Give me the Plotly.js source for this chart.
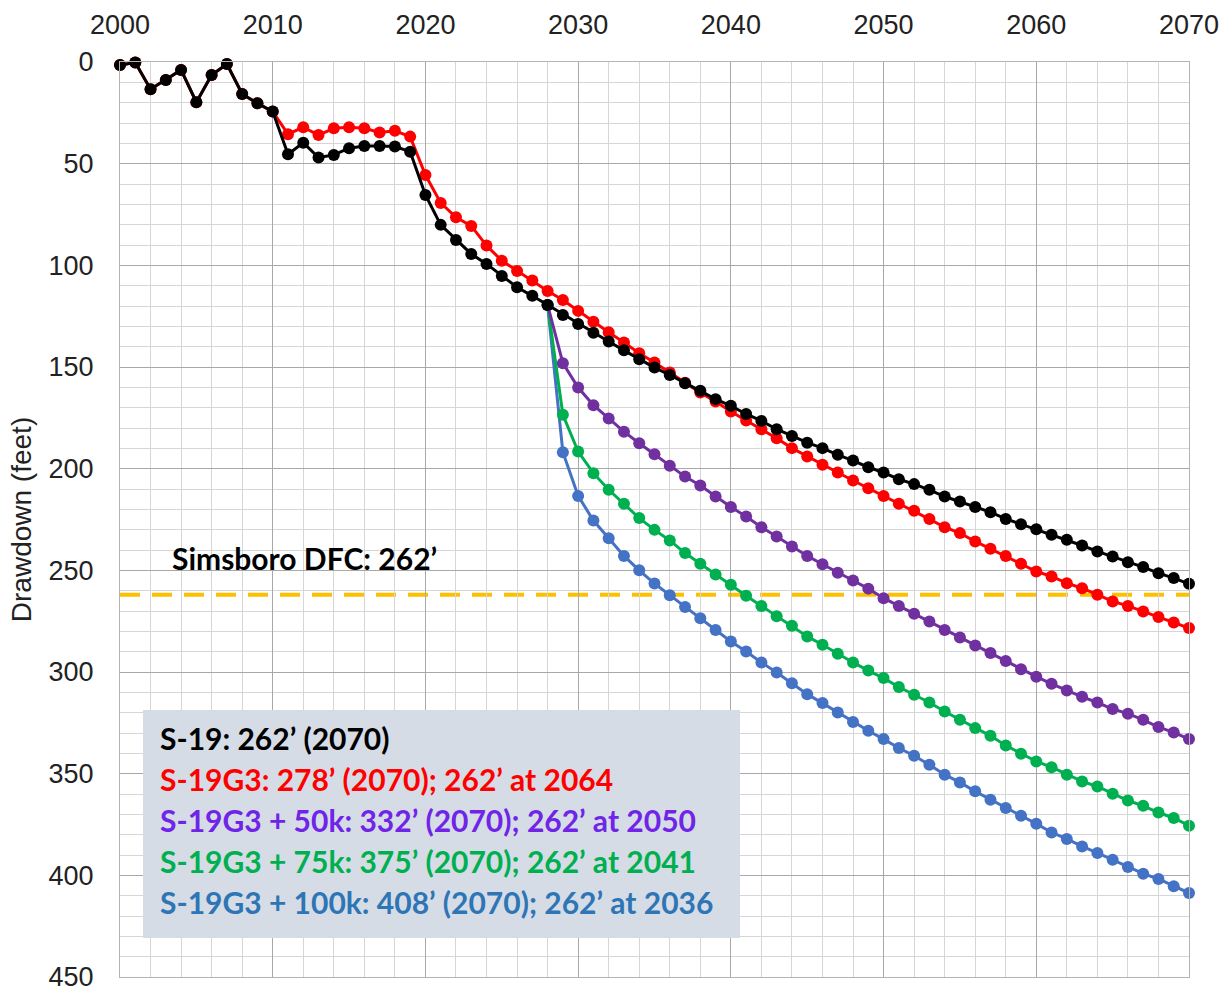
<!DOCTYPE html>
<html>
<head>
<meta charset="utf-8">
<script src="https://cdn.plot.ly/plotly-3.0.1.min.js"></script>
<style>html,body{margin:0;padding:0;background:#fff;}#chart{width:1230px;height:992px;}</style>
</head>
<body>
<div id="chart"></div>
<script>
// ---- data ----
const yearsFull = [2000,2001,2002,2003,2004,2005,2006,2007,2008,2009,2010,2011,2012,2013,2014,2015,2016,2017,2018,2019,2020,2021,2022,2023,2024,2025,2026,2027,2028,2029,2030,2031,2032,2033,2034,2035,2036,2037,2038,2039,2040,2041,2042,2043,2044,2045,2046,2047,2048,2049,2050,2051,2052,2053,2054,2055,2056,2057,2058,2059,2060,2061,2062,2063,2064,2065,2066,2067,2068,2069,2070];
const yearsBranch = [2028,2029,2030,2031,2032,2033,2034,2035,2036,2037,2038,2039,2040,2041,2042,2043,2044,2045,2046,2047,2048,2049,2050,2051,2052,2053,2054,2055,2056,2057,2058,2059,2060,2061,2062,2063,2064,2065,2066,2067,2068,2069,2070];

const s19 = [1.5,0.3,13.4,8.8,3.9,19.8,6.4,1,15.7,20.3,24.4,45.4,39.7,47,45.7,42.4,41.3,41.3,41.6,44.1,65.4,80.1,87.5,94.4,99.3,105.2,110.8,115,119.5,124.4,128.8,133.1,137.5,141.8,146.2,150.3,153.9,158,161.7,165.8,169.1,173.1,176.5,180.6,183.9,187.2,189.9,193.2,196,199.3,201.9,205.2,207.6,210.4,213.7,216.2,218.9,221.4,224.7,227.3,229.8,232.5,235,237.8,240.7,243.2,246,248.4,251.4,253.8,256.6];
const s19g3 = [1.5,0.3,13.4,8.8,3.9,19.8,6.4,1,15.7,20.3,24.4,35.5,32.1,35.9,32.6,32.1,32.6,34.7,33.8,36.7,55.6,69.3,76.4,80.6,90.3,97.7,102.8,107.5,112.6,117,122.4,127.7,132.9,138,143.2,147.8,152.7,157.8,162.6,167,171.9,176.3,180.6,185,189.9,194,198.1,201.9,205.8,209.6,213.4,217.3,220.7,224.8,228.8,231.7,235.8,239.4,242.9,246.8,250.6,253,256.3,258.8,262,265.3,267.5,270.2,273,275.6,278.4];
const g3_50k = [119.5,148.1,160.1,168.8,175.3,181.8,187.5,192.9,198.6,203.9,208.3,213.7,218.9,223.5,228.8,233.4,238.3,242.9,247,251.2,255,259,263.7,267.5,271.4,275.2,279.3,283,287,290.7,294.6,298.6,302.3,305.8,309.1,312.2,315,318.2,320.5,323.5,327.1,329.7,333];
const g3_75k = [119.5,173.5,191.6,202.2,210.4,217.3,224.3,230.1,235.3,241.5,246.8,252,257.1,262.5,267.5,272.6,277.3,282.5,286.6,291,295.3,299.3,303,307.4,311.2,315,319.4,323.5,327.6,331.4,336.1,340.2,344,346.8,350.5,353.8,356.3,359.9,363.2,365.8,369.1,371.8,375.6];
const g3_100k = [119.5,191.9,213.4,225.5,234.2,242.9,250,256.5,262.2,268,273.6,279.3,285,289.9,295.3,300.2,305.5,310.9,315.3,319.9,324.6,328.9,333,337.4,341.2,345.6,350.5,354.3,358.7,362.8,366.9,370.7,374.6,378.9,382.1,385.8,389,392.3,395.9,399.2,401.8,405.4,408.7];

const dfc = 262;
const dfcLabel = 'Simsboro DFC: 262\u2019';
const noteLines = [
  'S-19: 262\u2019 (2070)',
  'S-19G3: 278\u2019 (2070); 262\u2019 at 2064',
  'S-19G3 + 50k: 332\u2019 (2070); 262\u2019 at 2050',
  'S-19G3 + 75k: 375\u2019 (2070); 262\u2019 at 2041',
  'S-19G3 + 100k: 408\u2019 (2070); 262\u2019 at 2036'
];
const xTicks = [2000,2010,2020,2030,2040,2050,2060,2070];
const yTicks = [0,50,100,150,200,250,300,350,400,450];

// ---- styles ----
const noteColors = ['#000000','#FF0000','#7024E8','#00B050','#2E75B6'];
function series(x, y, color, name) {
  return {x: x, y: y, name: name, type: 'scatter', mode: 'lines+markers',
    line: {color: color, width: 3}, marker: {color: color, size: 12},
    cliponaxis: false, showlegend: false, hoverinfo: 'x+y'};
}
const traces = [
  series(yearsBranch, g3_100k, '#4472C4', 'S-19G3 + 100k'),
  series(yearsBranch, g3_75k, '#00B050', 'S-19G3 + 75k'),
  series(yearsBranch, g3_50k, '#7030A0', 'S-19G3 + 50k'),
  series(yearsFull, s19g3, '#FF0000', 'S-19G3'),
  series(yearsFull, s19, '#000000', 'S-19')
];

const noteFont = {family: 'Lato, "Open Sans", sans-serif', size: 30};
const noteY = [0.2612, 0.2164, 0.1716, 0.1268, 0.082];
const annotations = noteLines.map((t, i) => ({
  xref: 'paper', yref: 'paper', x: 0.0355, y: noteY[i], xanchor: 'left', yanchor: 'middle',
  text: '<b>' + t + '</b>', showarrow: false,
  font: Object.assign({}, noteFont, {color: noteColors[i]})
}));
annotations.push({
  xref: 'paper', yref: 'paper', x: 0.0468, y: 0.458, xanchor: 'left', yanchor: 'middle',
  text: '<b>' + dfcLabel + '</b>', showarrow: false,
  font: Object.assign({}, noteFont, {color: '#000000', size: 30})
});

const layout = {
  width: 1230, height: 992,
  margin: {l: 120, r: 41, t: 62, b: 15},
  paper_bgcolor: '#ffffff', plot_bgcolor: '#ffffff',
  font: {family: '"Liberation Sans", Arial, sans-serif', color: '#222'},
  xaxis: {
    side: 'top', range: [2000, 2070], tickvals: xTicks, ticktext: xTicks.map(String),
    tickfont: {size: 27, color: '#222'}, ticks: '', ticklabelstandoff: 16,
    ticklabeloverflow: 'allow',
    showgrid: true, gridcolor: '#a8a8a8', gridwidth: 1,
    minor: {dtick: 2, tick0: 2000, showgrid: true, gridcolor: '#d6d6d6', gridwidth: 1},
    showline: true, mirror: true, linecolor: '#b4b4b4', linewidth: 1, zeroline: false
  },
  yaxis: {
    range: [450, 0], tickvals: yTicks, ticktext: yTicks.map(String),
    tickfont: {size: 27, color: '#222'}, ticks: '', ticklabelstandoff: 20,
    ticklabeloverflow: 'allow',
    showgrid: true, gridcolor: '#a8a8a8', gridwidth: 1,
    minor: {dtick: 10, tick0: 0, showgrid: true, gridcolor: '#d6d6d6', gridwidth: 1},
    showline: true, mirror: true, linecolor: '#b4b4b4', linewidth: 1, zeroline: false,
    title: {text: 'Drawdown (feet)', font: {size: 28, color: '#222'}, standoff: 8}
  },
  shapes: [
    {type: 'line', xref: 'x', yref: 'y', x0: 2000, x1: 2070.4, y0: dfc, y1: dfc, layer: 'below',
     line: {color: '#FFC000', width: 4, dash: '20px,12px'}},
    {type: 'rect', xref: 'paper', yref: 'paper', x0: 0.0215, x1: 0.58, y0: 0.0426, y1: 0.2918,
     layer: 'above', fillcolor: '#D6DCE5', line: {width: 0}}
  ],
  annotations: annotations
};

Plotly.newPlot('chart', traces, layout, {staticPlot: true, displayModeBar: false});
</script>
</body>
</html>
